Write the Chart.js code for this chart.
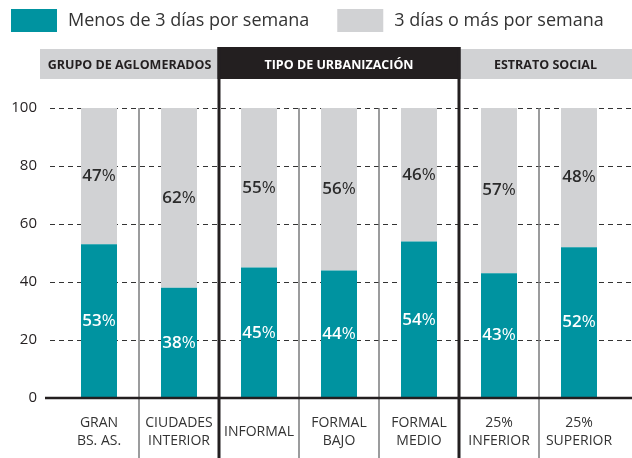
<!DOCTYPE html>
<html>
<head>
<meta charset="utf-8">
<script src="https://cdn.jsdelivr.net/npm/chart.js@4"></script>
<style>
  body { margin: 0; background: #fff; }
  #wrap { width: 632px; height: 458px; }
</style>
</head>
<body>
<div id="wrap"><canvas id="chart_canvas" width="632" height="458"></canvas></div>
<script>
// data
const categories = [["GRAN", "BS. AS."], ["CIUDADES", "INTERIOR"], ["INFORMAL"], ["FORMAL", "BAJO"], ["FORMAL", "MEDIO"], ["25%", "INFERIOR"], ["25%", "SUPERIOR"]];
const menos3 = [53, 38, 45, 44, 54, 43, 52];
const mas3 = [47, 62, 55, 56, 46, 57, 48];
const seriesNames = ["Menos de 3 días por semana", "3 días o más por semana"];
const groupNames = ["GRUPO DE AGLOMERADOS", "TIPO DE URBANIZACIÓN", "ESTRATO SOCIAL"];
const groupSizes = [2, 3, 2];
const yTicks = [0, 20, 40, 60, 80, 100];

const TEAL = '#0093a0';
const GREY = '#d1d2d4';
const INK = '#231f20';
const FONT = '"Open Sans", "Noto Sans", sans-serif';

// boundary between category i-1 and i
function boundary(xs, i) {
    return (xs.getPixelForValue(i - 1) + xs.getPixelForValue(i)) / 2;
}

var decor = {
    id: 'decor',
    beforeDatasetsDraw(chart) {
        var ctx = chart.ctx;
        var xs = chart.scales.x, ys = chart.scales.y;
        var W = chart.width, H = chart.height;
        ctx.save();

        // dashed grid
        ctx.strokeStyle = '#333';
        ctx.lineWidth = 1;
        ctx.setLineDash([5, 4]);
        for (const v of yTicks) {
            if (v == 0) continue;
            var y = Math.round(ys.getPixelForValue(v)) + 0.5;
            ctx.beginPath();
            ctx.moveTo(50, y);
            ctx.lineTo(W, y);
            ctx.stroke();
        }
        ctx.setLineDash([]);

        // header band
        var first = groupSizes[0];
        var last = groupSizes[0] + groupSizes[1];
        var bx1 = boundary(xs, first), bx2 = boundary(xs, last);
        ctx.fillStyle = GREY;
        ctx.fillRect(40, 49, W - 40, 30);
        ctx.fillStyle = INK;
        ctx.fillRect(bx1 - 1.5, 47, bx2 - bx1 + 3, 32);

        ctx.font = 'bold 12.5px ' + FONT;
        ctx.textAlign = 'center';
        ctx.textBaseline = 'middle';
        var starts = [40, bx1, bx2];
        var ends = [bx1, bx2, W];
        for (var g = 0; g < groupNames.length; g++) {
            ctx.fillStyle = g == 1 ? '#fff' : INK;
            ctx.fillText(groupNames[g], (starts[g] + ends[g]) / 2, 65);
        }

        // separators
        var idx = 0;
        var bigs = [];
        for (var g = 0; g < groupSizes.length; g++) {
            idx += groupSizes[g];
            bigs.push(idx);
        }
        for (var i = 1; i < categories.length; i++) {
            var x = boundary(xs, i);
            if (bigs.indexOf(i) >= 0) {
                ctx.strokeStyle = INK;
                ctx.lineWidth = 3;
                ctx.beginPath();
                ctx.moveTo(x, 47);
                ctx.lineTo(x, H);
                ctx.stroke();
            } else {
                ctx.strokeStyle = '#7a7b7d';
                ctx.lineWidth = 1.5;
                ctx.beginPath();
                ctx.moveTo(x, ys.getPixelForValue(100));
                ctx.lineTo(x, H);
                ctx.stroke();
            }
        }
        ctx.restore();
    },
    afterDatasetsDraw(chart) {
        var ctx = chart.ctx;
        var xs = chart.scales.x, ys = chart.scales.y;
        var W = chart.width;
        ctx.save();

        // zero line
        var y0 = ys.getPixelForValue(0);
        ctx.strokeStyle = INK;
        ctx.lineWidth = 2.5;
        ctx.beginPath();
        ctx.moveTo(45, y0);
        ctx.lineTo(W, y0);
        ctx.stroke();

        // bar labels
        ctx.textBaseline = 'middle';
        chart.data.datasets.forEach(function(ds, di) {
            var meta = chart.getDatasetMeta(di);
            meta.data.forEach(function(bar, i) {
                var num = String(ds.data[i]);
                var cy = (bar.y + bar.base) / 2;
                ctx.font = '600 17px ' + FONT;
                var w1 = ctx.measureText(num).width;
                ctx.font = '17px ' + FONT;
                var w2 = ctx.measureText('%').width;
                var left = bar.x - (w1 + w2) / 2;
                ctx.fillStyle = di == 0 ? '#ffffff' : '#2b2b2b';
                ctx.textAlign = 'left';
                ctx.font = '600 17px ' + FONT;
                ctx.fillText(num, left, cy);
                ctx.font = '17px ' + FONT;
                ctx.fillText('%', left + w1, cy);
            });
        });

        // category labels
        ctx.fillStyle = '#333';
        ctx.font = '14px ' + FONT;
        ctx.textAlign = 'center';
        for (var i = 0; i < categories.length; i++) {
            var lines = categories[i];
            var x = xs.getPixelForValue(i);
            var top = 432 - (lines.length - 1) * 9;
            for (var l = 0; l < lines.length; l++) {
                ctx.fillText(lines[l], x, top + l * 18);
            }
        }

        // legend
        ctx.font = '18px ' + FONT;
        ctx.textAlign = 'left';
        var lx = 11;
        chart.data.datasets.forEach(function(ds) {
            ctx.fillStyle = ds.backgroundColor;
            ctx.fillRect(lx, 9, 46, 23);
            ctx.fillStyle = '#333';
            ctx.fillText(ds.label, lx + 57, 21);
            lx += 57 + ctx.measureText(ds.label).width + 28;
        });
        ctx.restore();
    }
};

var ctx = document.getElementById('chart_canvas').getContext('2d');
var myChart = new Chart(ctx, {
    type: 'bar',
    data: {
        labels: categories,
        datasets: [
            { label: seriesNames[0], data: menos3, backgroundColor: TEAL },
            { label: seriesNames[1], data: mas3, backgroundColor: GREY }
        ]
    },
    options: {
        responsive: false,
        animation: false,
        events: [],
        layout: { padding: { top: 108, right: 13, left: 0, bottom: 0 } },
        datasets: { bar: { categoryPercentage: 1, barPercentage: 0.45 } },
        plugins: { legend: { display: false }, tooltip: { enabled: false } },
        scales: {
            x: {
                stacked: true,
                grid: { display: false },
                border: { display: false },
                ticks: { display: false },
                afterFit: function(scale) { scale.height = 60; }
            },
            y: {
                stacked: true,
                min: 0,
                max: 100,
                afterBuildTicks: function(scale) {
                    scale.ticks = yTicks.map(function(v) { return { value: v }; });
                },
                grid: { display: false, drawTicks: false },
                border: { display: false },
                ticks: { padding: 22, color: INK, font: { family: FONT, size: 15 } },
                afterFit: function(scale) { scale.width = 59; }
            }
        }
    },
    plugins: [decor]
});
</script>
</body>
</html>
